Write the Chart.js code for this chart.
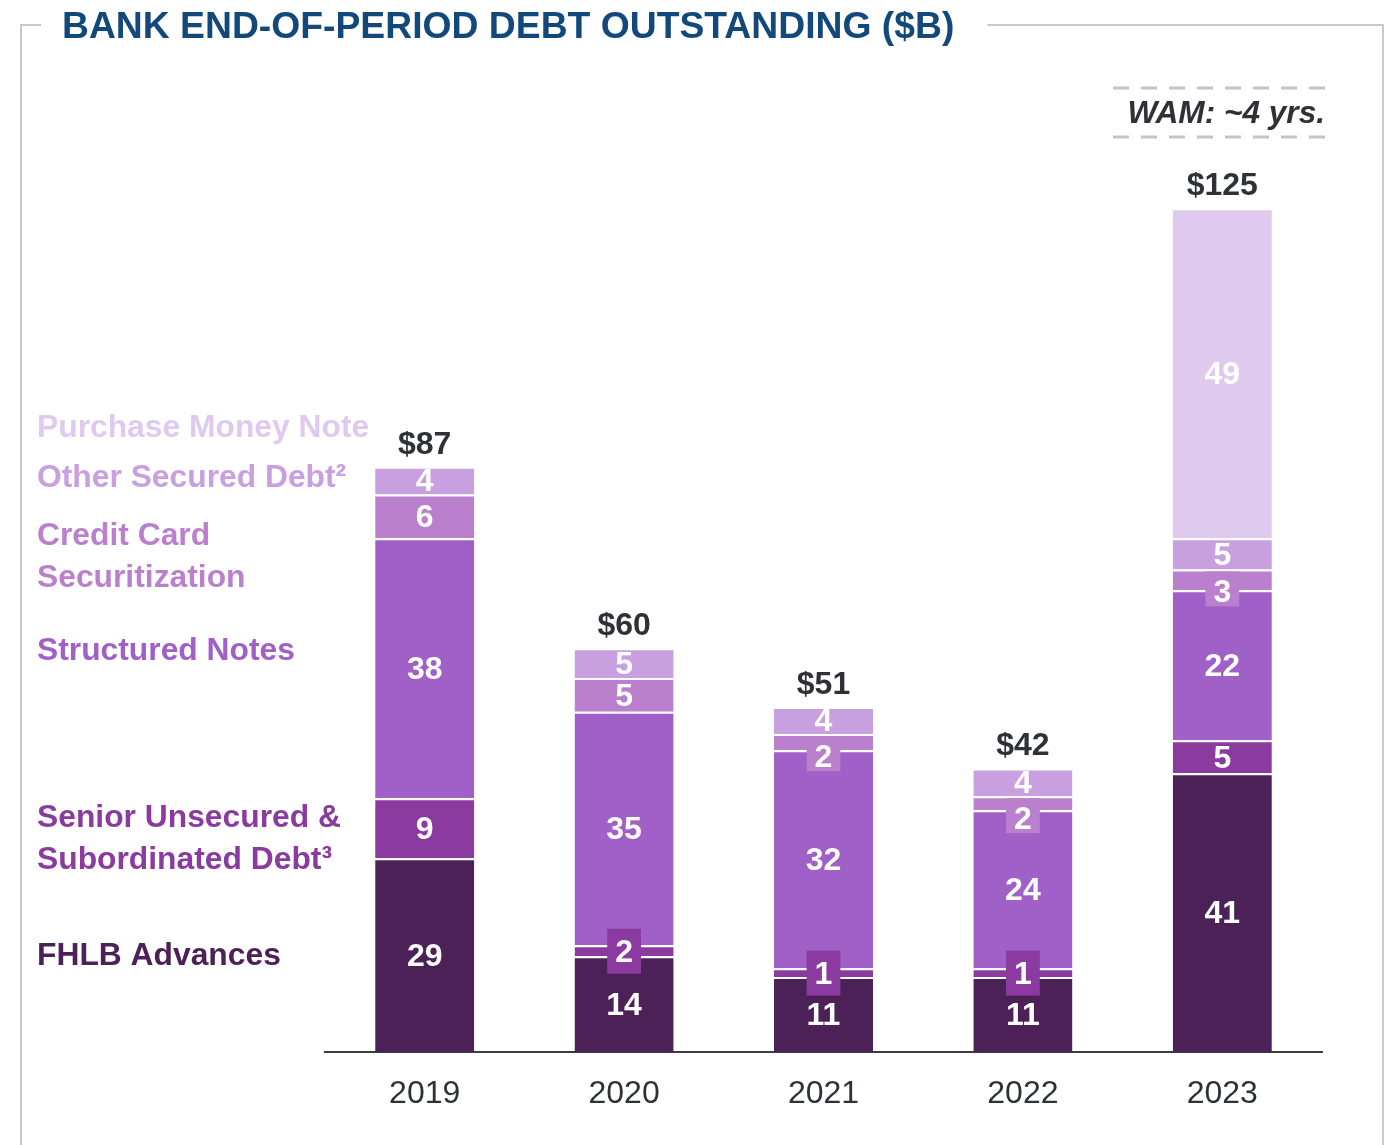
<!DOCTYPE html>
<html>
<head>
<meta charset="utf-8">
<script src="https://cdn.jsdelivr.net/npm/chart.js@4"></script>
<style>
  html, body { margin: 0; padding: 0; background: #fff; }
  #debt { display: block; }
</style>
</head>
<body>
<canvas id="debt" width="1392" height="1145"></canvas>
<script>
const years = ['2019', '2020', '2021', '2022', '2023'];

// segment sizes ($B)
const fhlb       = [28.7, 14.2, 11.1, 11.1, 41.3];
const senior     = [8.9, 1.6, 1.3, 1.3, 4.9];
const structured = [38.5, 34.6, 32.3, 23.4, 22.2];
const cardSecur  = [6.5, 5.0, 2.4, 2.1, 3.1];
const otherSec   = [4.1, 4.4, 4.0, 4.1, 4.6];
const pmn        = [0, 0, 0, 0, 48.9];

// numbers printed on the segments
const fhlbLabels       = [29, 14, 11, 11, 41];
const seniorLabels     = [9, 2, 1, 1, 5];
const structuredLabels = [38, 35, 32, 24, 22];
const cardLabels       = [6, 5, 2, 2, 3];
const otherLabels      = [4, 5, 4, 4, 5];
const pmnLabels        = [null, null, null, null, 49];

const totals = [87, 60, 51, 42, 125];

const FONT = '"Liberation Sans", Arial, sans-serif';
Chart.defaults.font.family = FONT;

const colors = {
  fhlb: '#4b2157',
  senior: '#8b3a9f',
  structured: '#a160c7',
  card: '#bb80cd',
  other: '#c9a0df',
  pmn: '#dfc9ee'
};

// left hand labels
const sideLabels = [
  ['Purchase Money Note', colors.pmn, 428],
  ['Other Secured Debt\u00b2', colors.other, 478],
  ['Credit Card', colors.card, 536],
  ['Securitization', colors.card, 578],
  ['Structured Notes', colors.structured, 651],
  ['Senior Unsecured &', colors.senior, 818],
  ['Subordinated Debt\u00b3', colors.senior, 860],
  ['FHLB Advances', colors.fhlb, 956]
];

const decorations = {
  id: 'decorations',
  beforeDraw(chart) {
    const ctx = chart.ctx;
    ctx.save();
    ctx.fillStyle = '#fff';
    ctx.fillRect(0, 0, chart.width, chart.height);

    const title = 'BANK END-OF-PERIOD DEBT OUTSTANDING ($B)';
    ctx.font = 'bold 37.3px ' + FONT;
    const tw = ctx.measureText(title).width;

    // frame, broken by the title
    ctx.strokeStyle = '#c8c8c8';
    ctx.lineWidth = 2;
    ctx.beginPath();
    ctx.moveTo(41, 25); ctx.lineTo(21, 25); ctx.lineTo(21, 1150);
    ctx.moveTo(62 + tw + 33, 25); ctx.lineTo(1383, 25); ctx.lineTo(1383, 1150);
    ctx.stroke();

    ctx.fillStyle = '#12497a';
    ctx.textBaseline = 'middle';
    ctx.textAlign = 'left';
    ctx.fillText(title, 62, 28);

    // WAM box
    ctx.strokeStyle = '#c4c4c4';
    ctx.lineWidth = 3;
    ctx.setLineDash([16, 12]);
    ctx.beginPath();
    ctx.moveTo(1113, 88); ctx.lineTo(1327, 88);
    ctx.moveTo(1113, 137); ctx.lineTo(1327, 137);
    ctx.stroke();
    ctx.setLineDash([]);
    ctx.font = 'italic bold 31.6px ' + FONT;
    ctx.fillStyle = '#2e3136';
    ctx.textAlign = 'right';
    ctx.fillText('WAM: ~4 yrs.', 1325, 114);

    ctx.font = 'bold 31.8px ' + FONT;
    ctx.textAlign = 'left';
    sideLabels.forEach(([text, color, y]) => {
      ctx.fillStyle = color;
      ctx.fillText(text, 37, y);
    });
    ctx.restore();
  },
  afterDatasetsDraw(chart) {
    const ctx = chart.ctx;
    ctx.save();
    ctx.font = 'bold 32px ' + FONT;
    ctx.textAlign = 'center';
    ctx.textBaseline = 'middle';

    chart.data.datasets.forEach((ds, di) => {
      const meta = chart.getDatasetMeta(di);
      meta.data.forEach((bar, i) => {
        const txt = ds.printed[i];
        if (txt == null) return;
        const top = bar.y, bottom = bar.base;
        const h = bottom - top;
        const w = ctx.measureText(String(txt)).width;
        let cy = (top + bottom) / 2;
        if (h < 24) {
          ctx.fillStyle = ds.backgroundColor;
          if (ds.smallLabel === 'below') {
            cy = top + 22;
            ctx.fillRect(bar.x - w / 2 - 8, top + 2, w + 16, cy + 15 - top - 2);
          } else {
            ctx.fillRect(bar.x - w / 2 - 8, cy - 22, w + 16, 45);
          }
        }
        ctx.fillStyle = '#fff';
        ctx.fillText(String(txt), bar.x, cy + 2);
      });
    });

    // totals above the stacks
    const last = chart.getDatasetMeta(chart.data.datasets.length - 1);
    ctx.fillStyle = '#2e3136';
    totals.forEach((t, i) => {
      const bar = last.data[i];
      ctx.fillText('$' + t, bar.x, bar.y - 22);
    });
    ctx.restore();
  }
};

function dataset(label, data, printed, color, smallLabel) {
  return {
    label: label,
    data: data,
    printed: printed,
    smallLabel: smallLabel,
    backgroundColor: color,
    borderColor: '#fff',
    borderWidth: { top: 2, bottom: 0, left: 0, right: 0 },
    borderSkipped: false,
    categoryPercentage: 1,
    barPercentage: 0.497
  };
}

new Chart(document.getElementById('debt'), {
  type: 'bar',
  data: {
    labels: years,
    datasets: [
      dataset('FHLB Advances', fhlb, fhlbLabels, colors.fhlb, 'center'),
      dataset('Senior Unsecured & Subordinated Debt', senior, seniorLabels, colors.senior, 'center'),
      dataset('Structured Notes', structured, structuredLabels, colors.structured, 'center'),
      dataset('Credit Card Securitization', cardSecur, cardLabels, colors.card, 'below'),
      dataset('Other Secured Debt', otherSec, otherLabels, colors.other, 'below'),
      dataset('Purchase Money Note', pmn, pmnLabels, colors.pmn, 'center')
    ]
  },
  options: {
    responsive: false,
    animation: false,
    layout: { padding: { left: 325, right: 70, top: 107, bottom: 0 } },
    plugins: {
      legend: { display: false },
      tooltip: { enabled: false }
    },
    scales: {
      x: {
        stacked: true,
        grid: { display: false, drawTicks: false },
        border: { display: true, color: '#3a3d42', width: 2 },
        ticks: { color: '#2e3136', font: { size: 32 }, padding: 23 },
        afterFit(scale) { scale.height = 93; }
      },
      y: {
        stacked: true,
        display: false,
        min: 0,
        max: 140
      }
    }
  },
  plugins: [decorations]
});
</script>
</body>
</html>
